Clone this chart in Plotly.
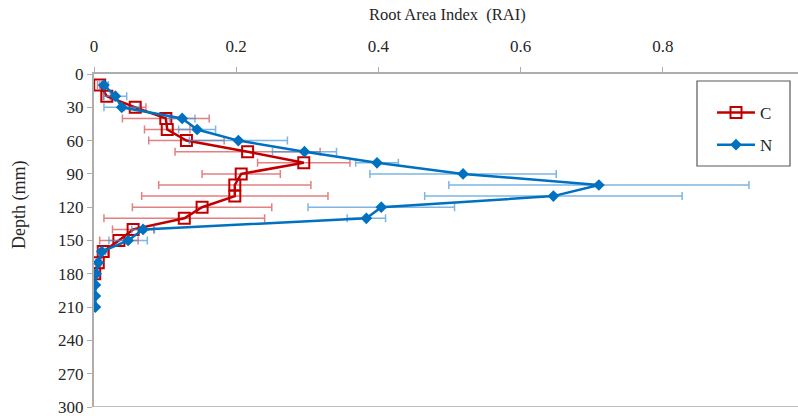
import plotly.graph_objects as go

depth_c = [10, 20, 30, 40, 50, 60, 70, 80, 90, 100, 110, 120, 130, 140, 150, 160, 170, 180]
rai_c = [0.008, 0.018, 0.058, 0.101, 0.103, 0.130, 0.216, 0.295, 0.207, 0.198, 0.198,
         0.152, 0.127, 0.055, 0.035, 0.013, 0.006, 0.001]
err_c = [0.003, 0.005, 0.015, 0.061, 0.032, 0.053, 0.102, 0.065, 0.055, 0.107, 0.131,
         0.098, 0.113, 0.029, 0.027, 0.006, 0.003, 0.001]

depth_n = [10, 20, 30, 40, 50, 60, 70, 80, 90, 100, 110, 120, 130, 140, 150, 160, 170, 180,
           190, 200, 210]
rai_n = [0.014, 0.030, 0.039, 0.124, 0.145, 0.203, 0.296, 0.398, 0.519, 0.710, 0.646,
         0.404, 0.383, 0.069, 0.048, 0.011, 0.006, 0.003, 0.002, 0.002, 0.002]
err_n = [0.006, 0.016, 0.025, 0.018, 0.026, 0.069, 0.045, 0.030, 0.131, 0.211, 0.181,
         0.103, 0.027, 0.016, 0.027, 0.005, 0.003, 0.002, 0.0, 0.0, 0.0]

x_ticks = [0, 0.2, 0.4, 0.6, 0.8]
x_labels = ["0", "0.2", "0.4", "0.6", "0.8"]
y_ticks = [0, 30, 60, 90, 120, 150, 180, 210, 240, 270, 300]

RED = "#C00000"
BLUE = "#0070C0"
FONT = "Liberation Serif, Times New Roman, serif"
TXT = "#262626"
AX = "#ADADAD"

W, H = 798, 416
ML, MR, MT, MB = 94, 0, 74, 9
PW, PH = W - ML - MR, H - MT - MB


def px_x(p):
    return (p - ML) / PW


def px_y(p):
    return 1 - (p - MT) / PH


fig = go.Figure()
fig.add_trace(go.Scatter(
    x=rai_c, y=depth_c, name="C", mode="lines+markers",
    line=dict(color=RED, width=2.5),
    marker=dict(symbol="square-open", size=11, color=RED, line=dict(width=2, color=RED)),
    error_x=dict(type="data", array=err_c, visible=True, color="rgba(215,75,75,0.7)",
                 thickness=1.5, width=4),
    legendgroup="c",
))
fig.add_trace(go.Scatter(
    x=rai_n, y=depth_n, name="N", mode="lines+markers",
    line=dict(color=BLUE, width=2.5),
    marker=dict(symbol="diamond", size=9, color=BLUE),
    error_x=dict(type="data", array=err_n, visible=True, color="rgba(70,150,215,0.7)",
                 thickness=1.5, width=4),
    legendgroup="n",
))

fig.add_shape(type="line", xref="paper", yref="y", x0=0, x1=1, y0=300, y1=300,
              line=dict(color=AX, width=1.5), layer="below")
# legend frame
fig.add_shape(type="rect", xref="paper", yref="paper",
              x0=px_x(697), x1=px_x(790), y0=px_y(166), y1=px_y(81),
              line=dict(color="#595959", width=1.2), fillcolor="white", layer="below")

fig.add_annotation(text="Root Area Index  (RAI)", xref="paper", yref="paper",
                   x=px_x(447), y=px_y(14), showarrow=False, xanchor="center", yanchor="middle",
                   font=dict(family=FONT, size=16.5, color=TXT))
fig.add_annotation(text="Depth (mm)", xref="paper", yref="paper", textangle=-90,
                   x=px_x(19), y=px_y(205), showarrow=False, xanchor="center", yanchor="middle",
                   font=dict(family=FONT, size=18, color=TXT))

fig.update_layout(
    width=W, height=H,
    margin=dict(l=ML, r=MR, t=MT, b=MB),
    paper_bgcolor="white", plot_bgcolor="white",
    font=dict(family=FONT, size=15, color=TXT),
    showlegend=True,
    legend=dict(
        x=px_x(712), y=px_y(95), xanchor="left", yanchor="top",
        borderwidth=0, bgcolor="rgba(0,0,0,0)",
        font=dict(family=FONT, size=17, color=TXT),
        traceorder="grouped", tracegroupgap=7, itemwidth=38,
    ),
    xaxis=dict(
        side="top", range=[0, 0.99], tickvals=x_ticks, ticktext=x_labels,
        showgrid=False, zeroline=False, showline=True, linecolor=AX, linewidth=2,
        ticks="outside", ticklen=5, tickcolor=AX, tickwidth=1,
        tickfont=dict(family=FONT, size=17, color=TXT), ticklabelstandoff=8,
        ticklabeloverflow="allow",
    ),
    yaxis=dict(
        range=[300, 0], tickvals=y_ticks,
        showgrid=False, zeroline=False, showline=True, linecolor=AX, linewidth=2,
        ticks="outside", ticklen=5, tickcolor=AX, tickwidth=1,
        tickfont=dict(family=FONT, size=17, color=TXT),
        ticklabeloverflow="allow", automargin=False,
    ),
)

fig.write_html("out.html")
